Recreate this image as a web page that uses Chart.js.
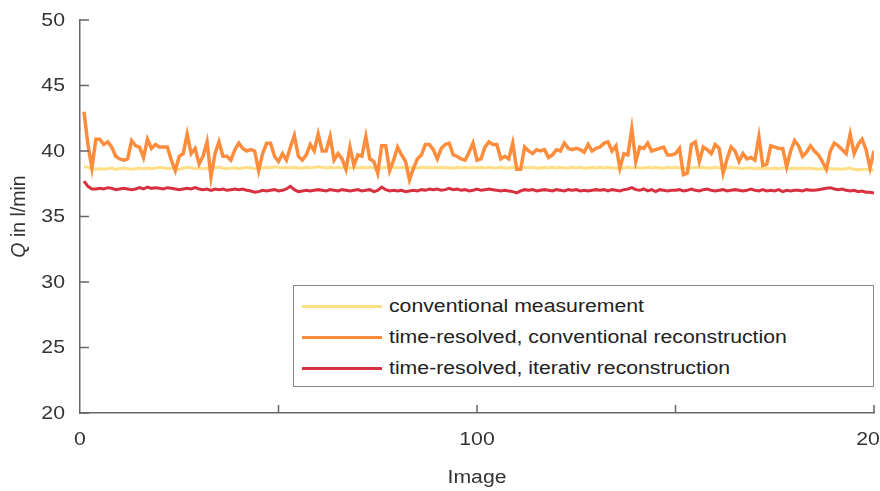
<!DOCTYPE html>
<html>
<head>
<meta charset="utf-8">
<script src="https://cdn.jsdelivr.net/npm/chart.js@4.4.1/dist/chart.umd.min.js"></script>
<style>
  html, body { margin: 0; padding: 0; background: #fff; }
  #wrap { position: relative; width: 880px; height: 491px; overflow: hidden; }
  #legend {
    position: absolute; left: 293px; top: 285px; width: 579px; height: 100px;
    border: 1.5px solid #8a8a8a; background: #fff;
    font-family: "Liberation Sans", Arial, sans-serif; font-size: 18px; color: #222;
  }
  .item { position: absolute; left: 8px; height: 20px; display: flex; align-items: center; white-space: nowrap; }
  .swatch { width: 80px; height: 3px; margin-right: 7px; flex: none; }
  .txt { display: inline-block; transform: scaleX(1.18); transform-origin: left center; }
</style>
</head>
<body>
<div id="wrap">
  <canvas id="chart" width="880" height="491"></canvas>
  <div id="legend"></div>
</div>
<script>
// messwerte, index 1..200
const seriesLabels = [
    "conventional measurement",
    "time-resolved, conventional reconstruction",
    "time-resolved, iterativ reconstruction",
];
const seriesColors = ["#fedf86", "#fd8d3c", "#d7303f"];

const conventional = [
    38.8, 38.75, 38.65, 38.6, 38.65, 38.6, 38.65, 38.7, 38.6, 38.65,
    38.7, 38.65, 38.6, 38.65, 38.7, 38.65, 38.7, 38.65, 38.7, 38.75,
    38.7, 38.65, 38.7, 38.65, 38.6, 38.7, 38.75, 38.7, 38.65, 38.7,
    38.65, 38.7, 38.65, 38.7, 38.75, 38.7, 38.65, 38.7, 38.7, 38.65,
    38.7, 38.75, 38.7, 38.65, 38.7, 38.7, 38.75, 38.7, 38.8, 38.75,
    38.7, 38.75, 38.7, 38.75, 38.7, 38.7, 38.75, 38.7, 38.75, 38.8,
    38.75, 38.7, 38.75, 38.7, 38.75, 38.7, 38.75, 38.7, 38.75, 38.7,
    38.75, 38.7, 38.75, 38.7, 38.65, 38.7, 38.75, 38.7, 38.75, 38.7,
    38.75, 38.7, 38.75, 38.7, 38.7, 38.75, 38.7, 38.75, 38.7, 38.75,
    38.7, 38.75, 38.7, 38.7, 38.75, 38.7, 38.75, 38.7, 38.75, 38.7,
    38.75, 38.7, 38.75, 38.7, 38.7, 38.75, 38.7, 38.7, 38.75, 38.7,
    38.7, 38.75, 38.7, 38.75, 38.7, 38.7, 38.75, 38.7, 38.75, 38.7,
    38.75, 38.7, 38.7, 38.75, 38.7, 38.75, 38.7, 38.7, 38.75, 38.7,
    38.75, 38.7, 38.75, 38.7, 38.7, 38.65, 38.7, 38.75, 38.7, 38.75,
    38.7, 38.7, 38.75, 38.7, 38.75, 38.7, 38.7, 38.75, 38.7, 38.75,
    38.7, 38.65, 38.7, 38.7, 38.75, 38.7, 38.75, 38.7, 38.7, 38.75,
    38.7, 38.65, 38.7, 38.75, 38.7, 38.7, 38.65, 38.7, 38.7, 38.65,
    38.7, 38.65, 38.7, 38.65, 38.7, 38.65, 38.7, 38.7, 38.65, 38.7,
    38.65, 38.7, 38.65, 38.7, 38.65, 38.6, 38.65, 38.7, 38.65, 38.6,
    38.65, 38.6, 38.65, 38.7, 38.6, 38.55, 38.6, 38.6, 38.55, 38.55,
];

const timeResolvedConv = [
    43.0, 40.5, 38.7, 40.9, 40.9, 40.5, 40.7, 40.3, 39.6, 39.4,
    39.3, 39.4, 40.8, 40.4, 40.3, 39.5, 40.9, 40.2, 40.5, 40.3,
    40.3, 40.3, 39.3, 38.5, 39.6, 39.8, 41.3, 39.8, 40.2, 39.0,
    39.6, 40.7, 38.0, 39.8, 40.7, 39.6, 39.6, 39.3, 40.1, 40.6,
    40.2, 40.0, 40.1, 40.0, 38.5, 39.8, 40.6, 40.6, 39.6, 39.2,
    39.8, 39.3, 40.3, 41.2, 39.6, 39.3, 39.7, 40.5, 40.0, 41.3,
    40.0, 40.0, 41.1, 39.3, 39.8, 39.4, 38.6, 40.3, 38.9, 39.7,
    39.6, 41.1, 39.4, 39.2, 38.3, 40.4, 40.4, 38.5, 39.3, 40.3,
    39.7, 39.2, 37.8, 38.7, 39.4, 39.7, 40.5, 40.5, 40.1, 39.4,
    40.2, 40.5, 40.6, 39.7, 39.6, 39.4, 39.3, 39.9, 40.6, 39.3,
    39.4, 40.3, 40.7, 40.5, 40.5, 39.4, 39.6, 39.4, 40.6, 38.6,
    38.6, 40.3, 40.0, 39.8, 40.1, 40.0, 40.1, 39.5, 39.7, 40.1,
    40.0, 40.6, 40.2, 40.1, 40.2, 40.1, 39.9, 40.5, 40.0, 40.2,
    40.3, 40.6, 40.7, 40.0, 40.4, 38.7, 39.8, 39.7, 41.7, 39.2,
    40.3, 40.2, 40.6, 40.0, 40.1, 40.2, 40.3, 39.7, 39.7, 39.8,
    40.2, 38.2, 38.3, 40.5, 40.7, 39.2, 40.3, 40.1, 39.8, 40.5,
    40.2, 38.3, 39.4, 40.3, 40.0, 39.2, 39.8, 39.4, 39.5, 39.3,
    41.1, 38.9, 39.0, 40.4, 40.3, 40.2, 40.2, 38.8, 40.0, 40.8,
    40.4, 39.6, 39.9, 40.4, 40.0, 39.7, 39.2, 38.6, 40.0, 40.6,
    40.4, 40.1, 39.8, 41.3, 39.8, 40.5, 40.9, 40.1, 38.7, 40.0,
];

const timeResolvedIter = [
    37.7, 37.3, 37.1, 37.1, 37.15, 37.1, 37.2, 37.15, 37.05, 37.1,
    37.15, 37.1, 37.05, 37.1, 37.2, 37.1, 37.25, 37.15, 37.2, 37.15,
    37.1, 37.2, 37.15, 37.1, 37.05, 37.1, 37.15, 37.1, 37.2, 37.1,
    37.05, 37.1, 37.0, 37.1, 37.05, 37.1, 37.0, 37.05, 37.1, 37.05,
    37.1, 37.0, 36.95, 36.85, 36.9, 37.0, 36.95, 37.0, 37.05, 36.95,
    37.0, 37.1, 37.3, 37.05, 36.9, 36.95, 37.0, 36.95, 37.0, 37.05,
    37.0, 36.95, 37.05, 37.0, 36.95, 37.05, 37.0, 36.95, 37.0, 37.05,
    36.95, 37.0, 37.05, 36.9, 37.0, 37.25, 37.05, 36.95, 37.0, 36.95,
    37.0, 36.9, 36.95, 37.0, 36.95, 37.05, 37.0, 37.1, 37.05, 37.1,
    37.0, 37.05, 37.15, 37.05, 37.1, 37.0, 37.05, 36.95, 37.0, 37.1,
    37.0, 37.05, 37.1, 37.05, 37.0, 36.95, 37.0, 36.95, 36.9, 36.8,
    36.95, 37.05, 37.0, 37.05, 36.95, 37.0, 37.05, 37.0, 36.95, 37.05,
    37.0, 36.95, 37.05, 37.0, 37.05, 36.95, 37.0, 36.95, 37.0, 37.05,
    37.0, 37.05, 36.95, 37.05, 37.0, 36.95, 37.05, 37.1, 37.2, 37.05,
    37.0, 37.1, 36.95, 37.05, 36.9, 37.05, 37.0, 36.95, 37.0, 37.0,
    37.05, 36.95, 37.0, 37.1, 37.0, 36.95, 37.05, 37.1, 37.0, 36.95,
    37.0, 37.05, 36.95, 37.0, 37.05, 37.0, 36.95, 37.0, 37.1, 37.0,
    36.95, 37.05, 36.95, 37.0, 36.95, 37.05, 36.9, 37.0, 36.95, 37.0,
    37.0, 36.95, 37.05, 37.0, 37.0, 37.05, 37.1, 37.15, 37.2, 37.1,
    37.05, 37.1, 37.0, 36.95, 37.0, 36.9, 36.95, 36.85, 36.85, 36.8,
];

const xTickLabels = { 0: "0", 100: "100", 200: "200" };

const FONT = '"Liberation Sans", Arial, sans-serif';
const SX = 1.18; // schrift ist im original etwas breiter

function toPoints(arr) {
    // bild-nr beginnt bei 1
    return arr.map((v, i) => ({ x: i + 1, y: v }));
}

function wideText(ctx, text, x, y, align) {
    ctx.save();
    ctx.translate(x, y);
    ctx.scale(SX, 1);
    ctx.textAlign = align;
    ctx.fillText(text, 0, 0);
    ctx.restore();
}

// ticks nach innen, beschriftung selbst zeichnen (breitere schrift)
const axisDecor = {
    id: "axisDecor",
    afterDraw(chart) {
        const { ctx, chartArea, scales } = chart;
        ctx.save();
        ctx.strokeStyle = "#666";
        ctx.lineWidth = 1.5;
        ctx.beginPath();
        for (const t of scales.y.ticks) {
            const y = scales.y.getPixelForValue(t.value);
            ctx.moveTo(chartArea.left, y);
            ctx.lineTo(chartArea.left + 9, y);
        }
        for (const t of scales.x.ticks) {
            if (t.value === 0) continue;
            const x = scales.x.getPixelForValue(t.value);
            ctx.moveTo(x, chartArea.bottom);
            ctx.lineTo(x, chartArea.bottom - 8);
        }
        ctx.stroke();

        ctx.fillStyle = "#333";
        ctx.textBaseline = "middle";
        ctx.font = "18px " + FONT;
        for (const t of scales.y.ticks) {
            wideText(ctx, String(t.value), chartArea.left - 15, scales.y.getPixelForValue(t.value) + 1, "right");
        }
        for (const t of scales.x.ticks) {
            const lbl = xTickLabels[t.value];
            if (!lbl) continue;
            wideText(ctx, lbl, scales.x.getPixelForValue(t.value), chartArea.bottom + 27, "center");
        }
        wideText(ctx, "Image", (chartArea.left + chartArea.right) / 2, chartArea.bottom + 65, "center");

        // y-titel, Q kursiv
        const cy = (chartArea.top + chartArea.bottom) / 2;
        ctx.translate(20, cy);
        ctx.rotate(-Math.PI / 2);
        const q = "Q";
        const rest = " in l/min";
        ctx.font = "italic 19.5px " + FONT;
        const wq = ctx.measureText(q).width;
        ctx.font = "19.5px " + FONT;
        const wr = ctx.measureText(rest).width;
        const x0 = -(wq + wr) / 2;
        ctx.textAlign = "left";
        ctx.font = "italic 19.5px " + FONT;
        ctx.fillText(q, x0, 0);
        ctx.font = "19.5px " + FONT;
        ctx.fillText(rest, x0 + wq, 0);
        ctx.restore();
    },
};

const datasets = [
    { label: seriesLabels[0], data: toPoints(conventional), borderColor: seriesColors[0], borderWidth: 3, order: 2 },
    { label: seriesLabels[1], data: toPoints(timeResolvedConv), borderColor: seriesColors[1], borderWidth: 3.5, order: 0 },
    { label: seriesLabels[2], data: toPoints(timeResolvedIter), borderColor: seriesColors[2], borderWidth: 3, order: 1 },
].map(d => Object.assign(d, { pointRadius: 0, tension: 0, fill: false }));

new Chart(document.getElementById("chart").getContext("2d"), {
    type: "line",
    data: { datasets },
    options: {
        responsive: false,
        animation: false,
        events: [],
        layout: { padding: { top: 20, right: 6, left: 0, bottom: 0 } },
        plugins: { legend: { display: false }, tooltip: { enabled: false } },
        scales: {
            x: {
                type: "linear",
                min: 0,
                max: 200,
                grid: { display: true, drawOnChartArea: false, drawTicks: false },
                border: { display: true, color: "#666", width: 1.5 },
                ticks: { stepSize: 50, display: false },
                afterFit(scale) {
                    scale.height = 78;
                    scale.paddingLeft = 0;
                    scale.paddingRight = 0;
                },
            },
            y: {
                min: 20,
                max: 50,
                grid: { display: true, drawOnChartArea: false, drawTicks: false },
                border: { display: true, color: "#666", width: 1.5 },
                ticks: { stepSize: 5, display: false },
                afterFit(scale) {
                    scale.width = 80;
                    scale.paddingTop = 0;
                    scale.paddingBottom = 0;
                },
            },
        },
    },
    plugins: [axisDecor],
});

// legende als html, aus denselben arrays
const legend = document.getElementById("legend");
seriesLabels.forEach((lbl, i) => {
    const row = document.createElement("div");
    row.className = "item";
    row.style.top = (10 + i * 31) + "px";
    const sw = document.createElement("span");
    sw.className = "swatch";
    sw.style.background = seriesColors[i];
    const tx = document.createElement("span");
    tx.className = "txt";
    tx.textContent = lbl;
    row.appendChild(sw);
    row.appendChild(tx);
    legend.appendChild(row);
});
</script>
</body>
</html>
